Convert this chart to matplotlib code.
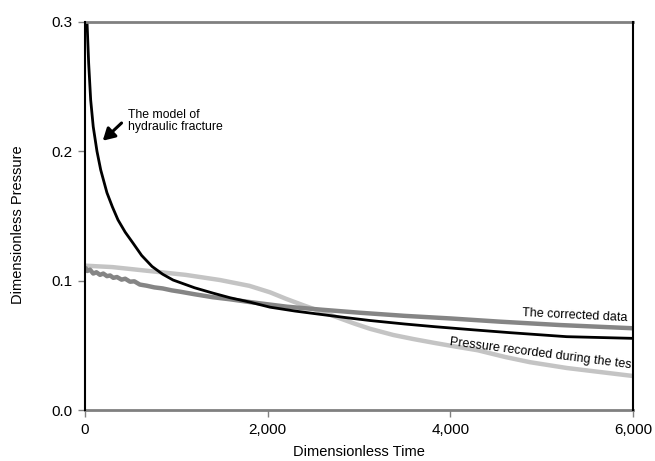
import matplotlib.pyplot as plt
from matplotlib.ticker import FuncFormatter

plt.rcParams['font.family'] = ['Liberation Sans', 'DejaVu Sans']

# model of hydraulic fracture (black)
t_model = [8, 22, 40, 62, 90, 131, 172, 240, 300, 361, 440, 526, 620, 734, 850, 964,
           1200, 1405, 1588, 1800, 2026, 2300, 2573, 2850, 3120, 3500, 3832, 4250, 4653,
           5274, 6000]
p_model = [0.33, 0.30, 0.268, 0.2397, 0.219, 0.200, 0.1856, 0.168, 0.157, 0.147, 0.1375,
           0.129, 0.1195, 0.111, 0.105, 0.1005, 0.0945, 0.0903, 0.0868, 0.0835, 0.0795,
           0.0765, 0.074, 0.0715, 0.0692, 0.0665, 0.0644, 0.062, 0.0598, 0.0567, 0.0554]

# corrected data (dark gray)
t_corr = [0, 25, 55, 90, 125, 164, 200, 240, 275, 310, 350, 400, 440, 493, 540, 600, 675,
          760, 850, 950, 1040, 1200, 1400, 1588, 1800, 2208, 2600, 3011, 3500, 4000, 4544,
          5200, 6000]
p_corr = [0.1105, 0.1075, 0.1085, 0.1055, 0.1065, 0.1045, 0.1055, 0.1035, 0.104, 0.1022,
          0.1028, 0.1008, 0.1015, 0.0992, 0.0995, 0.097, 0.0961, 0.0948, 0.094, 0.0925,
          0.0915, 0.0895, 0.0872, 0.0856, 0.0835, 0.0799, 0.0775, 0.0752, 0.0728, 0.0708,
          0.0683, 0.0657, 0.0632]

# pressure recorded during the test (light gray)
t_rec = [0, 300, 766, 1100, 1478, 1800, 2026, 2200, 2390, 2580, 2756, 2950, 3120, 3376,
         3600, 3832, 4060, 4300, 4600, 4870, 5274, 6000]
p_rec = [0.1116, 0.1105, 0.107, 0.1045, 0.1005, 0.096, 0.091, 0.086, 0.081, 0.0762,
         0.0718, 0.0668, 0.0628, 0.058, 0.0548, 0.0518, 0.049, 0.0462, 0.041, 0.037,
         0.0325, 0.0263]

fig = plt.figure(figsize=(6.55, 4.61), dpi=100)
ax = fig.add_axes([0.1298, 0.1106, 0.8366, 0.8417])

ax.plot(t_rec, p_rec, color='#c4c4c4', lw=3.2, solid_capstyle='butt')
ax.plot(t_corr, p_corr, color='#858585', lw=3.2, solid_capstyle='butt')
ax.plot(t_model, p_model, color='black', lw=2.0)

ax.set_xlim(0, 6000)
ax.set_ylim(0, 0.3)
ax.set_xticks([0, 2000, 4000, 6000])
ax.set_yticks([0.0, 0.1, 0.2, 0.3])
ax.xaxis.set_major_formatter(FuncFormatter(lambda v, p: f'{int(v):,}'))
ax.yaxis.set_major_formatter(FuncFormatter(lambda v, p: f'{v:.1f}'))
ax.tick_params(direction='out', length=5, width=1, color='#808080', labelsize=11, pad=4)

for side in ['top', 'bottom']:
    ax.spines[side].set_color('#808080')
    ax.spines[side].set_linewidth(2)
for side in ['left', 'right']:
    ax.spines[side].set_color('black')
    ax.spines[side].set_linewidth(1.5)
    ax.spines[side].set_zorder(3)

ax.set_xlabel('Dimensionless Time', fontsize=10.5, labelpad=6)
ax.set_ylabel('Dimensionless Pressure', fontsize=10.5)
ax.yaxis.set_label_coords(-0.11, 0.477)

# arrow + label for the model curve
ax.annotate('', xy=(194, 0.2082), xytext=(400, 0.2219),
            arrowprops=dict(arrowstyle='-|>,head_width=0.4,head_length=0.7',
                            color='black', lw=2.2, shrinkA=0, shrinkB=0))
ax.text(470, 0.2235, 'The model of\nhydraulic fracture', fontsize=8.8, va='center',
        ha='left', linespacing=1.05)

ax.text(4781, 0.0748, 'The corrected data', fontsize=9, rotation=-2.8,
        rotation_mode='anchor', ha='left', va='center')
ax.text(3996, 0.0528, 'Pressure recorded during the test', fontsize=9, rotation=-7.3,
        rotation_mode='anchor', ha='left', va='center', clip_on=True)

fig.savefig('out.png', dpi=100)
